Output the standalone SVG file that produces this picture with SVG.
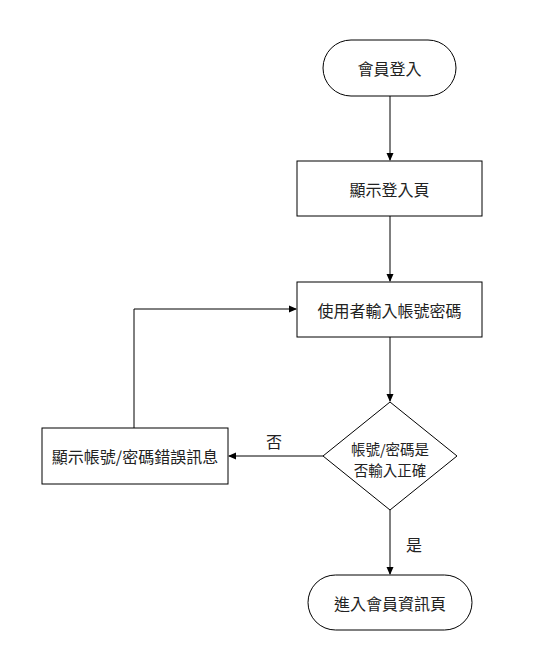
<svg xmlns="http://www.w3.org/2000/svg" width="554" height="662" viewBox="0 0 554 662">
<defs>
<marker id="arr" markerWidth="8" markerHeight="8" refX="7" refY="4" orient="auto" markerUnits="userSpaceOnUse">
<path d="M0,0.5 L8,4 L0,7.5 Z" fill="#000"/>
</marker>
</defs>
<style>
.shape{fill:#fff;stroke:#000;stroke-width:1}
.t{font-family:"Noto Sans CJK TC","Noto Sans CJK SC",sans-serif;font-size:16px;fill:#222;text-anchor:middle;dominant-baseline:central}
.d{font-size:14.5px}
.c{fill:none;stroke:#000;stroke-width:1;marker-end:url(#arr)}
</style>
<rect width="554" height="662" fill="#fff"/>
<g id="connectors">
<path class="c" d="M390,96 V160"/>
<path class="c" d="M390,216 V281"/>
<path class="c" d="M390,337 V401"/>
<path class="c" d="M323,456 H229"/>
<path class="c" d="M134,428 V309 H296"/>
<path class="c" d="M390,510 V574"/>
<text class="t" x="274" y="441">否</text>
<text class="t" x="414" y="544">是</text>
</g>
<g id="start">
<rect class="shape" x="323" y="40" width="133" height="56" rx="28" ry="28"/>
<text class="t" x="389.5" y="68">會員登入</text>
</g>
<g id="showLogin">
<rect class="shape" x="297" y="161" width="185" height="55"/>
<text class="t" x="389.5" y="188.5">顯示登入頁</text>
</g>
<g id="input">
<rect class="shape" x="297" y="282" width="185" height="55"/>
<text class="t" x="389.5" y="309.5">使用者輸入帳號密碼</text>
</g>
<g id="decision">
<polygon class="shape" points="390,402 457,456 390,510 323,456"/>
<text class="t d" x="390" y="448">帳號/密碼是</text>
<text class="t d" x="390" y="469">否輸入正確</text>
</g>
<g id="error">
<rect class="shape" x="42" y="428" width="186" height="56"/>
<text class="t" x="135" y="456">顯示帳號/密碼錯誤訊息</text>
</g>
<g id="end">
<rect class="shape" x="308" y="575" width="164" height="55" rx="27.5" ry="27.5"/>
<text class="t" x="390" y="602.5">進入會員資訊頁</text>
</g>
</svg>
